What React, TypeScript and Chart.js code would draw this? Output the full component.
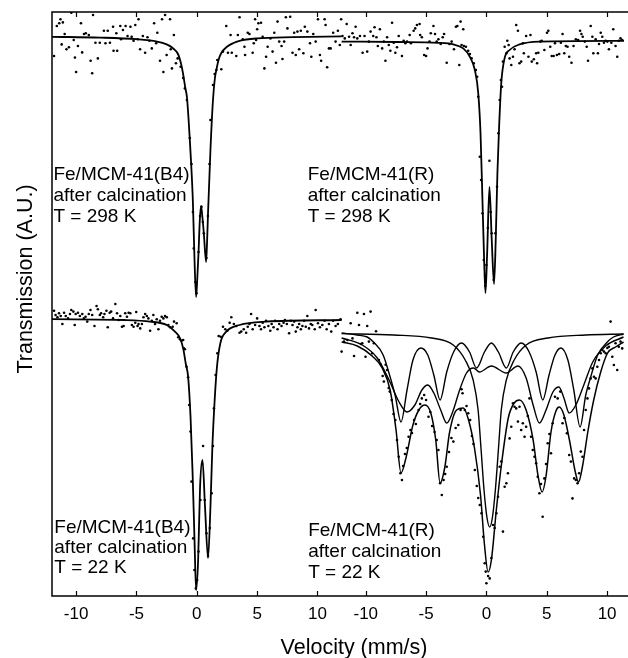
import React, { useEffect, useRef } from 'react';
import { Chart, registerables } from 'chart.js';

Chart.register(...registerables);

// Shared velocity axis: left panels use -12..12 mm/s, right panels are shifted by OFFSET.
const OFFSET = 24;
const X_MIN = -12;
const X_MAX = 35.4;
const Y_MIN = 0;
const Y_MAX = 146;
const tickVelocities = [-10, -5, 0, 5, 10];

// ---------- Fe/MCM-41(B4), 298 K (upper left) ----------
const fitB4_298 = [
  [-12, 139.8], [-8, 139.6], [-5, 139.2], [-3.29, 138.6], [-2.5, 137.9], [-2.0, 137.0], [-1.56, 135.5],
  [-1.3, 133.0], [-1.15, 130.75], [-0.95, 127.0], [-0.82, 124.75], [-0.7, 120.0], [-0.58, 114], [-0.45, 107],
  [-0.33, 99], [-0.19, 84], [-0.06, 74.75], [0.05, 80], [0.14, 85.75], [0.25, 94], [0.35, 97.5], [0.47, 94.5],
  [0.58, 90.75], [0.77, 83.5], [0.85, 88.5], [0.93, 95.75], [1.13, 111.5], [1.34, 124], [1.5, 129.5],
  [1.62, 131.5], [1.8, 134.0], [2.03, 135.75], [2.5, 137.3], [3.0, 138.2], [3.54, 138.8], [5.0, 139.4],
  [8.0, 139.7], [12, 139.9],
];
const dataB4_298 = [
  [-11.83, 135], [-11.6, 142.5], [-11.4, 143.2], [-11.3, 144.2], [-11.2, 137.9], [-11.1, 143.4], [-10.95, 140.5],
  [-10.8, 136.7], [-10.6, 137.2], [-10.4, 145.8], [-10.2, 139], [-10.1, 134.6], [-10.0, 131], [-9.85, 137.5],
  [-9.6, 143.2], [-9.5, 135.9], [-9.35, 140.5], [-9.2, 140.7], [-8.95, 140.25], [-8.8, 133.8], [-8.67, 130.7],
  [-8.6, 145.25], [-8.4, 138.3], [-8.2, 134.4], [-8.04, 138.3], [-7.7, 141.3], [-7.57, 138.2], [-7.38, 141.3],
  [-7.2, 138.3], [-6.94, 142.3], [-6.9, 136.3], [-6.67, 140.7], [-6.6, 136.3], [-6.34, 142.5], [-6.28, 139.2],
  [-6.12, 141.5], [-5.9, 142.5], [-5.74, 140], [-5.5, 142.3], [-5.4, 139.8], [-5.24, 138.8], [-5.1, 142.75],
  [-4.9, 139.2], [-4.83, 144.2], [-4.7, 136.7], [-4.47, 140], [-4.28, 135.8], [-4.09, 139.7], [-3.93, 138.8],
  [-3.73, 136.9], [-3.54, 143.2], [-3.37, 138.2], [-3.27, 140.8], [-3.05, 133.8], [-2.88, 144.2], [-2.77, 131],
  [-2.63, 145.25], [-2.5, 135.25], [-2.22, 144.2], [-2.16, 136.7], [-2.06, 131.9], [-1.9, 140.25], [-1.73, 133.2],
  [-1.59, 134.4], [-1.34, 132.3], [-1.13, 129.5],
  [-0.99, 126.9], [-0.82, 124.0], [-0.58, 114.5], [-0.44, 108.0], [-0.32, 96.0], [-0.25, 86.9], [-0.12, 78.5],
  [-0.02, 75.7], [0.14, 86.0], [0.27, 95.0], [0.39, 97.3], [0.5, 93.5], [0.58, 90.7], [0.8, 84.5], [0.92, 95.0],
  [1.05, 108.0], [1.13, 119.0], [1.34, 127.75], [1.48, 130.5], [1.62, 131.5],
  [1.7, 134], [2.03, 131.7], [2.17, 136.1], [2.44, 142.5], [2.58, 135.8], [2.8, 140.25], [2.9, 135.8], [3.27, 135],
  [3.4, 140.25], [3.54, 144.7], [3.81, 139.2], [3.95, 137.3], [4.0, 135.25], [4.22, 140.8], [4.36, 140.5],
  [4.63, 135.8], [4.72, 138.2], [4.83, 144.2], [4.91, 139], [5.0, 141.7], [5.1, 143.2], [5.32, 143.3],
  [5.46, 139.8], [5.6, 131.9], [5.74, 134.8], [5.87, 137.3], [6.1, 139.4], [6.28, 136.1], [6.42, 140.8],
  [6.56, 133.3], [6.69, 143.6], [6.83, 138.6], [7.02, 137.5], [7.1, 134.25], [7.24, 138.6], [7.38, 144.7],
  [7.51, 141.9], [7.74, 144.8], [7.93, 135.8], [8.07, 140.8], [8.2, 135.25], [8.34, 141.1], [8.48, 136.7],
  [8.62, 141.3], [8.83, 135.7], [8.95, 142.3], [9.16, 141.1], [9.38, 138.2], [9.49, 134.8], [9.65, 140.5],
  [9.85, 138.6], [10.04, 144.2], [10.2, 135.25], [10.3, 133.8], [10.59, 144.2], [10.67, 142.75], [10.8, 132.2],
  [10.95, 136.9], [11.09, 136.9], [11.3, 140.8], [11.5, 138.6], [11.69, 141.3], [11.85, 137.75], [11.96, 144.2],
];

// ---------- Fe/MCM-41(R), 298 K (upper right) ----------
const fitR_298 = [
  [-12, 138.6], [-7.4, 138.5], [-4, 138.3], [-2.74, 137.9], [-1.92, 136.9], [-1.37, 134.8], [-0.96, 131.5],
  [-0.68, 125.75], [-0.49, 115.75], [-0.33, 99], [-0.19, 84], [-0.08, 75.75], [0.06, 85.75], [0.25, 102.25],
  [0.44, 89], [0.63, 78], [0.77, 89], [0.91, 105.75], [1.05, 117.25], [1.23, 128.25], [1.51, 134.5],
  [1.92, 136.5], [2.74, 137.9], [4.39, 138.6], [11.4, 138.8],
];
const dataR_298 = [
  [-11.93, 140], [-11.74, 139.4], [-11.58, 143], [-11.38, 139.8], [-11.25, 137.75], [-11.1, 140.7], [-10.97, 139.7],
  [-10.84, 142.3], [-10.7, 139.4], [-10.48, 140], [-10.26, 135.8], [-10.1, 140], [-9.88, 136.1], [-9.74, 138.6],
  [-9.6, 141.1], [-9.38, 140], [-9.27, 142.2], [-9.11, 139.7], [-9.0, 137.5], [-8.83, 141.7], [-8.64, 136.9],
  [-8.5, 138.6], [-8.37, 133.8], [-8.23, 139.7], [-8.09, 137.75], [-7.96, 136.3], [-7.82, 143.3], [-7.68, 138.3],
  [-7.55, 135.8], [-7.41, 137.2], [-7.27, 140], [-7.0, 135], [-6.86, 138.8], [-6.72, 138.2], [-6.58, 138.6],
  [-6.36, 140.25], [-6.26, 138.2], [-6.03, 141.3], [-5.9, 141.9], [-5.76, 142.75], [-5.54, 143], [-5.49, 140.25],
  [-5.35, 139.7], [-5.16, 135.25], [-5.0, 135], [-4.88, 136.9], [-4.72, 138.6], [-4.61, 140.7], [-4.39, 142.5],
  [-4.26, 140.5], [-4.12, 138.6], [-3.98, 139.2], [-3.79, 138], [-3.62, 139.7], [-3.51, 140.5], [-3.29, 133.3],
  [-3.07, 138], [-2.88, 138.6], [-2.69, 136.7], [-2.53, 142.3], [-2.41, 142.5], [-2.25, 132.75], [-2.14, 143.6],
  [-2.06, 137.75], [-1.92, 141.7], [-1.87, 137.5], [-1.7, 137.3], [-1.51, 136.3], [-1.37, 135.5], [-1.23, 134.4],
  [-1.05, 133.2], [-0.88, 131.5], [-0.77, 129.8],
  [-0.68, 124.8], [-0.55, 109.8], [-0.44, 104.0], [-0.33, 95.7], [-0.22, 84.0], [-0.1, 77.5], [0.0, 82.75],
  [0.12, 92.0], [0.25, 108.8], [0.35, 96.0], [0.44, 90.7], [0.6, 79.0], [0.74, 90.7], [0.88, 102.3], [0.99, 115.7],
  [1.1, 124.0], [1.2, 129.0], [1.29, 127.3], [1.37, 133.6],
  [1.51, 137.3], [1.65, 135.7], [1.73, 138.8], [1.84, 137.75], [1.92, 134.4], [2.06, 132.75], [2.2, 134.8],
  [2.33, 136.7], [2.47, 142.75], [2.61, 141.3], [2.74, 133.2], [2.88, 133.6], [3.02, 138.2], [3.1, 135.7],
  [3.29, 140], [3.48, 134.8], [3.65, 140.25], [3.76, 133.6], [3.93, 134.2], [4.12, 135.7], [4.2, 133.2],
  [4.3, 135.8], [4.47, 138.6], [4.58, 138.8], [4.8, 136.5], [5.02, 140.8], [5.13, 141.3], [5.29, 137.3], [5.41, 135],
  [5.57, 135], [5.68, 138.2], [5.84, 135.25], [6.03, 135.5], [6.17, 138.3], [6.31, 140.5], [6.45, 135.7],
  [6.58, 137.5], [6.72, 137.3], [6.86, 134.8], [7.05, 133.3], [7.22, 137.5], [7.41, 139.2], [7.6, 139],
  [7.76, 141.3], [7.87, 140.5], [7.98, 139.8], [8.15, 138.6], [8.31, 137.3], [8.42, 133.8], [8.64, 142.5],
  [8.78, 139.8], [8.86, 135.7], [9.05, 139.2], [9.24, 135.7], [9.33, 138], [9.47, 140.8], [9.6, 139.8],
  [9.74, 138.3], [9.88, 138.8], [10.02, 138.6], [10.15, 136.7], [10.35, 138.3], [10.51, 141.7], [10.7, 137.5],
  [10.84, 134.8], [10.97, 138.8], [11.11, 139.4], [11.25, 139],
];

// ---------- Fe/MCM-41(B4), 22 K (lower left) ----------
const fitB4_22 = [
  [-12, 69.2], [-6, 69.0], [-3.87, 68.6], [-2.49, 67.75], [-1.81, 66.1], [-1.4, 64.5], [-1.13, 61.9],
  [-0.91, 58.0], [-0.72, 54.8], [-0.52, 44.8], [-0.35, 30.75], [-0.19, 14], [-0.06, 1.5], [0.11, 9],
  [0.27, 27.3], [0.47, 34], [0.68, 22.3], [0.93, 9.5], [1.13, 22.3], [1.29, 37.3], [1.48, 49], [1.67, 57.3],
  [1.95, 63.2], [2.44, 66.1], [3.54, 67.75], [5.74, 68.6], [12, 69.0],
];
const dataB4_22 = [
  [-11.83, 71.3], [-11.7, 70.25], [-11.55, 69.7], [-11.42, 70.7], [-11.28, 70], [-11.14, 68], [-11.0, 70.8],
  [-10.86, 70], [-10.67, 69.4], [-10.51, 70.5], [-10.4, 71.5], [-10.23, 71.1], [-10.12, 67.75], [-10.04, 70.5],
  [-9.85, 70.8], [-9.69, 70], [-9.49, 70.5], [-9.36, 69.4], [-9.22, 69.8], [-9.08, 68.6], [-8.95, 70.5],
  [-8.81, 71.5], [-8.67, 70.25], [-8.48, 67.5], [-8.31, 72.5], [-8.2, 71.7], [-8.04, 70.25], [-7.93, 70.7],
  [-7.76, 69.7], [-7.65, 70.5], [-7.49, 71.3], [-7.38, 67.2], [-7.22, 70.8], [-7.1, 71.1], [-6.94, 69.4],
  [-6.75, 73], [-6.61, 70.7], [-6.48, 69], [-6.34, 70], [-6.2, 67.3], [-6.06, 67.5], [-5.93, 70.7], [-5.79, 69.8],
  [-5.65, 70.8], [-5.51, 70.7], [-5.38, 67.75], [-5.24, 67.3], [-5.1, 68.3], [-5.02, 71], [-4.91, 67.5],
  [-4.83, 68], [-4.69, 66.9], [-4.55, 68], [-4.42, 69.7], [-4.28, 70.5], [-4.14, 70], [-4.01, 69.4],
  [-3.87, 66.3], [-3.73, 68.8], [-3.6, 70.25], [-3.46, 68], [-3.32, 69.2], [-3.18, 66.7], [-3.05, 68.8],
  [-2.91, 69.8], [-2.77, 69.4], [-2.63, 70], [-2.49, 69.7], [-2.36, 67.75], [-2.22, 67.2], [-2.0, 67.3],
  [-1.89, 68.6], [-1.67, 68.2], [-1.54, 64.7], [-1.4, 64.2], [-1.26, 63.8], [-1.13, 64], [-1.07, 61.9],
  [-0.99, 61.7], [-0.85, 57.3], [-0.72, 54.7], [-0.63, 47.75], [-0.52, 41.1], [-0.44, 28.6], [-0.3, 14.4],
  [-0.2, 6.5], [-0.08, 1.9], [0.03, 4.0], [0.14, 11.1], [0.3, 24.0], [0.44, 33.0], [0.52, 37.5], [0.66, 24.0],
  [0.8, 15.7], [0.93, 10.0], [1.08, 17.0], [1.23, 25.7], [1.34, 37.5], [1.42, 46.9], [1.56, 55.25],
  [1.7, 60.7], [1.81, 65], [1.98, 64.8], [2.17, 67.3], [2.36, 66.7], [2.53, 66.3], [2.72, 68.3], [2.86, 69.7],
  [3.07, 68], [3.27, 67.5], [3.54, 65.8], [3.68, 66.1], [3.89, 66.7], [4.09, 65.8], [4.22, 67.3], [4.36, 68],
  [4.5, 70.5], [4.63, 66.7], [4.83, 67.75], [5.0, 69.4], [5.19, 67.5], [5.32, 66.7], [5.46, 68.3], [5.6, 67.2],
  [5.74, 68.8], [5.93, 67.5], [6.09, 66.3], [6.2, 68], [6.36, 67.2], [6.48, 68.8], [6.69, 66.7], [6.83, 68],
  [7.02, 67.5], [7.19, 68.3], [7.3, 69], [7.46, 68], [7.65, 65.7], [7.79, 68.8], [7.93, 67.75], [8.07, 68.6],
  [8.2, 66.1], [8.34, 67.2], [8.48, 68], [8.62, 66.7], [8.75, 67.5], [8.89, 68.8], [9.03, 67.3], [9.16, 70],
  [9.3, 66.9], [9.44, 68], [9.57, 67.75], [9.77, 66.7], [9.85, 71.5], [10.04, 68.2], [10.2, 67.2], [10.4, 67.75],
  [10.59, 68.8], [10.76, 66.7], [10.95, 68], [11.14, 66.1], [11.3, 68.8], [11.5, 67.5], [11.69, 68], [11.91, 69.2],
];

// ---------- Fe/MCM-41(R), 22 K (lower right): total fit + three sub-spectra ----------
const fitR_22_total = [
  [-12, 63.5], [-10.7, 62.5], [-9.47, 60], [-8.64, 57], [-7.98, 51.5], [-7.49, 41.5], [-7.08, 30.75],
  [-6.67, 34.5], [-6.09, 42.75], [-5.6, 46.5], [-5.1, 47.75], [-4.61, 45.75], [-4.2, 39], [-3.84, 28.25],
  [-3.46, 32], [-3.05, 41], [-2.47, 46.5], [-1.92, 47], [-1.48, 44], [-0.99, 37], [-0.49, 25.25], [-0.16, 12.75],
  [0.14, 6], [0.41, 9], [0.82, 21.5], [1.23, 32.5], [1.81, 44.5], [2.3, 48.25], [2.74, 49], [3.29, 46.5],
  [3.87, 39], [4.28, 30], [4.61, 26], [4.94, 30], [5.35, 41], [5.76, 46.25], [6.03, 47.25], [6.42, 45.25],
  [6.91, 38.5], [7.33, 31.5], [7.63, 28.5], [7.98, 32.75], [8.4, 41], [8.89, 49], [9.47, 56], [10.04, 60.75],
  [10.7, 62.25], [11.36, 63.5],
];
const fitR_22_sextet1 = [
  [-12, 65.75], [-10.7, 65.25], [-9.88, 64.75], [-9.36, 63.5], [-8.56, 60.25], [-7.98, 54.75], [-7.57, 50.25],
  [-7.08, 43.5], [-6.58, 51.5], [-6.09, 59], [-5.43, 62], [-4.86, 60.25], [-4.36, 55.25], [-3.84, 49],
  [-3.29, 56], [-2.72, 61], [-2.06, 63.25], [-1.4, 61], [-0.82, 57], [-0.16, 61], [0.41, 63.25], [0.99, 61],
  [1.65, 57], [2.22, 61], [2.88, 63.25], [3.54, 61], [4.12, 56], [4.67, 49], [5.19, 55.25], [5.68, 60.25],
  [6.17, 62], [6.75, 59], [7.24, 51.5], [7.76, 42.25], [8.23, 50.25], [8.64, 54.75], [9.22, 60.25],
  [10.02, 63.5], [10.53, 64.75], [11.36, 65.5],
];
const fitR_22_sextet2 = [
  [-12, 64.5], [-10.29, 62.75], [-9.05, 59.5], [-8.07, 54], [-7.24, 48.5], [-6.58, 46], [-5.93, 47.75],
  [-5.35, 51.5], [-4.86, 52.75], [-4.36, 50.75], [-3.79, 46.5], [-3.29, 43.25], [-2.8, 46], [-2.22, 51.5],
  [-1.65, 55.75], [-1.07, 57], [-0.58, 56], [0.41, 57.5], [1.65, 55.75], [2.61, 57.5], [3.29, 54.5],
  [3.87, 47.75], [4.39, 43.25], [4.94, 46.5], [5.51, 51], [6.01, 52.25], [6.42, 49.5], [6.86, 45.75],
  [7.41, 47.75], [8.07, 52.75], [8.81, 58.5], [9.88, 62.5], [11.36, 64.75],
];
const fitR_22_doublet = [
  [-12, 65.6], [-7.69, 65.25], [-4.56, 64.5], [-2.75, 62.75], [-1.76, 59], [-1.1, 54], [-0.69, 46.5],
  [-0.44, 36.5], [-0.2, 26.5], [0.05, 19.5], [0.27, 17.25], [0.49, 19.5], [0.74, 26.5], [0.99, 36.5],
  [1.23, 46.5], [1.65, 54], [2.3, 59], [3.29, 62.75], [5.1, 64.5], [8.23, 65.25], [11.36, 65.5],
];
const dataR_22 = [
  [-12.0, 61.1], [-11.8, 63.6], [-11.52, 64.0], [-11.25, 68.2], [-11.1, 64.4], [-10.97, 60.0], [-10.7, 70.8],
  [-10.56, 67.75], [-10.4, 63.0], [-10.29, 63.2], [-10.15, 70.5], [-10.02, 59.8], [-9.88, 67.5], [-9.74, 63.6],
  [-9.6, 71.1], [-9.47, 60.7], [-9.33, 63.2], [-9.15, 66.2], [-8.91, 59.0], [-8.78, 58.0], [-8.6, 55.0],
  [-8.5, 53.6], [-8.35, 57.8], [-8.23, 56.5], [-8.1, 52.0], [-8.01, 51.1], [-7.85, 49.0], [-7.7, 45.5],
  [-7.55, 44.0], [-7.41, 39.0], [-7.27, 34.8], [-7.13, 30.7], [-7.0, 29.0], [-6.9, 32.5], [-6.75, 35.5],
  [-6.6, 37.0], [-6.45, 39.8], [-6.3, 41.5], [-6.17, 40.75], [-6.0, 44.0], [-5.85, 43.0], [-5.62, 46.5],
  [-5.49, 48.0], [-5.35, 49.4], [-5.16, 50.25], [-5.0, 49.0], [-4.8, 44.8], [-4.65, 46.0], [-4.5, 42.5],
  [-4.3, 41.0], [-4.12, 39.0], [-3.98, 36.5], [-3.84, 28.2], [-3.7, 25.25], [-3.55, 29.0], [-3.42, 30.5],
  [-3.29, 32.3], [-3.1, 36.0], [-2.9, 39.5], [-2.74, 38.6], [-2.55, 42.0], [-2.33, 42.75], [-2.14, 46.5],
  [-2.06, 51.7], [-1.98, 50.7], [-1.79, 46.5], [-1.65, 47.5], [-1.51, 45.7], [-1.35, 44.0], [-1.2, 40.0],
  [-1.08, 38.0], [-0.96, 31.5], [-0.8, 27.5], [-0.68, 24.5], [-0.55, 22.75], [-0.41, 20.7], [-0.27, 14.8],
  [-0.14, 8.2], [-0.06, 6.1], [0.0, 3.2], [0.14, 5.0], [0.27, 4.4], [0.41, 9.5], [0.55, 17.75], [0.68, 17.0],
  [0.82, 20.7], [0.96, 24.8], [1.1, 32.3], [1.23, 33.6], [1.37, 16.1], [1.51, 27.3], [1.65, 28.2], [1.78, 30.7],
  [1.92, 39.4], [2.06, 42.3], [2.2, 48.2], [2.33, 47.3], [2.47, 46.9], [2.61, 43.6], [2.74, 47.3], [2.88, 41.5],
  [3.02, 43.2], [3.16, 39.8], [3.29, 42.3], [3.43, 45.0], [3.57, 49.4], [3.7, 39.8], [3.84, 36.5], [3.98, 34.8],
  [4.12, 33.2], [4.25, 29.8], [4.39, 25.7], [4.52, 28.0], [4.66, 19.8], [4.8, 29.4], [4.94, 33.0], [5.08, 38.2],
  [5.22, 40.5], [5.35, 35.7], [5.49, 43.2], [5.68, 49.8], [5.9, 49.4], [6.12, 51.1], [6.31, 43.2], [6.45, 44.5],
  [6.67, 40.7], [6.86, 35.25], [7.0, 33.6], [7.13, 24.4], [7.27, 29.4], [7.41, 29.0], [7.55, 28.2], [7.68, 30.7],
  [7.82, 36.1], [7.96, 34.8], [8.09, 41.5], [8.23, 46.5], [8.37, 49.4], [8.5, 51.9], [8.64, 54.4], [8.78, 56.9],
  [8.91, 54.8], [9.05, 54.4], [9.19, 57.3], [9.33, 59.0], [9.47, 60.7], [9.6, 61.5], [9.74, 61.1], [9.88, 60.7],
  [10.02, 62.0], [10.15, 62.3], [10.29, 68.6], [10.43, 59.8], [10.56, 57.75], [10.7, 63.2], [10.84, 56.5],
  [10.97, 62.3], [11.11, 63.6], [11.25, 61.9],
];

// Panel captions (anchored in data coordinates of the shared axes)
const captionB4_298 = ['Fe/MCM-41(B4)', 'after calcination', 'T = 298 K'];
const captionR_298 = ['Fe/MCM-41(R)', 'after calcination', 'T = 298 K'];
const captionB4_22 = ['Fe/MCM-41(B4)', 'after calcination', 'T = 22 K'];
const captionR_22 = ['Fe/MCM-41(R)', 'after calcination', 'T = 22 K'];

const FONT = '"Liberation Sans", Arial, Helvetica, sans-serif';

const toXY = (arr: number[][], shift: number) => arr.map(([v, t]) => ({ x: v + shift, y: t }));

const lineDs = (arr: number[][], shift: number, width: number) => ({
  type: 'scatter' as const,
  data: toXY(arr, shift),
  showLine: true,
  borderColor: '#000',
  borderWidth: width,
  pointRadius: 0,
  cubicInterpolationMode: 'monotone' as const,
  fill: false,
});

const dotDs = (arr: number[][], shift: number) => ({
  type: 'scatter' as const,
  data: toXY(arr, shift),
  showLine: false,
  pointRadius: 1.3,
  pointBorderWidth: 0,
  pointBackgroundColor: '#000',
  backgroundColor: '#000',
});

export default function App() {
  const ref = useRef<HTMLCanvasElement | null>(null);

  useEffect(() => {
    if (!ref.current) return;

    const captions = [
      { lines: captionB4_298, x: -11.88, y: 103.9, lh: 21 },
      { lines: captionR_298, x: 9.19, y: 103.9, lh: 21 },
      { lines: captionB4_22, x: -11.81, y: 15.75, lh: 20 },
      { lines: captionR_22, x: 9.23, y: 15.0, lh: 21 },
    ];

    const tickPositions = [
      ...tickVelocities,
      ...tickVelocities.map((v) => v + OFFSET),
    ];

    const overlay = {
      id: 'overlay',
      afterDatasetsDraw(chart: any) {
        const { ctx, chartArea: a, scales } = chart;
        const xs = scales.x;
        const ys = scales.y;
        ctx.save();
        // frame
        ctx.strokeStyle = '#000';
        ctx.lineWidth = 1.5;
        ctx.beginPath();
        ctx.moveTo(a.right + 4, a.top);
        ctx.lineTo(a.left, a.top);
        ctx.lineTo(a.left, a.bottom);
        ctx.lineTo(a.right + 4, a.bottom);
        ctx.stroke();
        // inward tick marks, top and bottom
        ctx.lineWidth = 1.2;
        ctx.beginPath();
        for (const t of tickPositions) {
          const px = Math.round(xs.getPixelForValue(t)) + 0.5;
          ctx.moveTo(px, a.top);
          ctx.lineTo(px, a.top + 5);
          ctx.moveTo(px, a.bottom);
          ctx.lineTo(px, a.bottom - 5);
        }
        ctx.stroke();
        // captions
        ctx.fillStyle = '#000';
        ctx.font = `19px ${FONT}`;
        ctx.textAlign = 'left';
        ctx.textBaseline = 'alphabetic';
        for (const c of captions) {
          const px = xs.getPixelForValue(c.x);
          const py = ys.getPixelForValue(c.y);
          c.lines.forEach((s, i) => ctx.fillText(s, px, py + i * c.lh));
        }
        // axis titles
        ctx.font = `21.5px ${FONT}`;
        ctx.textAlign = 'center';
        ctx.fillText('Velocity (mm/s)', 354, 654);
        ctx.save();
        ctx.translate(32.3, 279);
        ctx.rotate(-Math.PI / 2);
        ctx.fillText('Transmission (A.U.)', 0, 0);
        ctx.restore();
        ctx.restore();
      },
    };

    const chart = new Chart(ref.current, {
      type: 'scatter',
      data: {
        datasets: [
          dotDs(dataB4_298, 0),
          lineDs(fitB4_298, 0, 1.8),
          dotDs(dataR_298, OFFSET),
          lineDs(fitR_298, OFFSET, 1.8),
          dotDs(dataB4_22, 0),
          lineDs(fitB4_22, 0, 1.8),
          dotDs(dataR_22, OFFSET),
          lineDs(fitR_22_sextet1, OFFSET, 1.4),
          lineDs(fitR_22_sextet2, OFFSET, 1.4),
          lineDs(fitR_22_doublet, OFFSET, 1.4),
          lineDs(fitR_22_total, OFFSET, 1.5),
        ] as any,
      },
      options: {
        animation: false,
        responsive: true,
        maintainAspectRatio: false,
        layout: { padding: { left: 52, top: 12, right: 0, bottom: 0 } },
        plugins: { legend: { display: false }, tooltip: { enabled: false } },
        scales: {
          x: {
            type: 'linear',
            min: X_MIN,
            max: X_MAX,
            afterBuildTicks: (s: any) => {
              s.ticks = tickPositions.map((v) => ({ value: v }));
            },
            afterFit: (s: any) => {
              s.height = 62;
            },
            ticks: {
              autoSkip: false,
              maxRotation: 0,
              padding: 8,
              color: '#000',
              font: { family: FONT, size: 17 },
              callback: (v: any) => String(v > 12 ? v - OFFSET : v),
            },
            grid: { display: false, drawTicks: false },
            border: { display: false },
          },
          y: {
            type: 'linear',
            display: false,
            min: Y_MIN,
            max: Y_MAX,
          },
        },
      },
      plugins: [overlay],
    });

    return () => chart.destroy();
  }, []);

  return (
    <div style={{ position: 'absolute', left: 0, top: 0, width: 628, height: 658, background: '#fff' }}>
      <canvas ref={ref} />
    </div>
  );
}
